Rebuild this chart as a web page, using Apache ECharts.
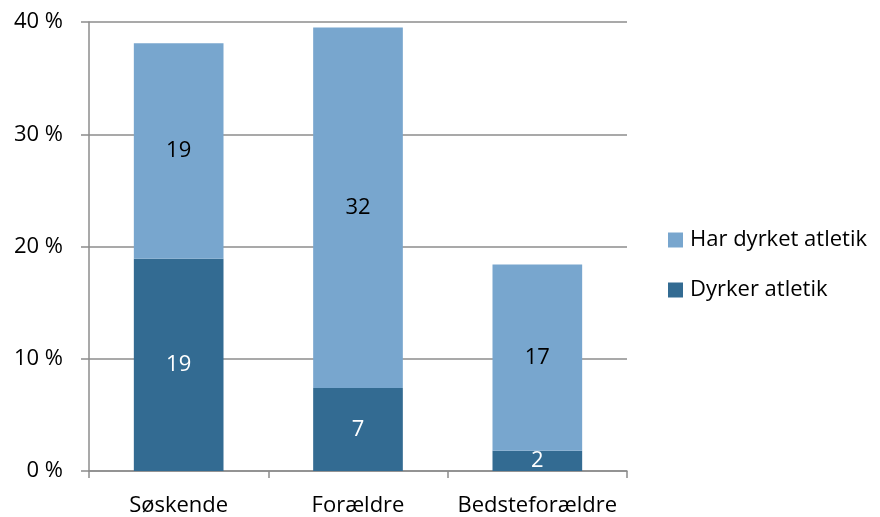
<!DOCTYPE html>
<html>
<head>
<meta charset="utf-8">
<script src="https://cdn.jsdelivr.net/npm/echarts@6/dist/echarts.min.js"></script>
<style>
html,body{margin:0;padding:0;background:#fff;}
#chart{width:880px;height:517px;}
</style>
</head>
<body>
<div id="chart"></div>
<script>
const categories = ['Søskende', 'Forældre', 'Bedsteforældre'];
const dyrker = [18.9, 7.4, 1.8];
const harDyrket = [19.2, 32.1, 16.6];
const seriesNames = ['Dyrker atletik', 'Har dyrket atletik'];
const yTicks = [0, 10, 20, 30, 40];

const FONT = '"Open Sans", "Liberation Sans", sans-serif';
const FS = 22;
const chart = echarts.init(document.getElementById('chart'));
chart.setOption({
  animation: false,
  backgroundColor: '#fff',
  grid: {left: 89, right: 253, top: 22, bottom: 46, containLabel: false},
  legend: {
    orient: 'vertical',
    left: 668,
    top: 229,
    padding: 0,
    itemWidth: 15,
    itemHeight: 15,
    itemGap: 28,
    data: [seriesNames[1], seriesNames[0]],
    textStyle: {fontFamily: FONT, fontSize: FS, color: '#000', lineHeight: 22, padding: [0, 0, 0, 2]},
    icon: 'rect'
  },
  xAxis: {
    type: 'category',
    data: categories,
    axisLine: {lineStyle: {color: '#8c8c8c', width: 1.5}},
    axisTick: {show: true, length: 7, lineStyle: {color: '#8c8c8c', width: 1.5}},
    axisLabel: {fontFamily: FONT, fontSize: FS, color: '#000', margin: 24, interval: 0, hideOverlap: false}
  },
  yAxis: {
    type: 'value',
    min: yTicks[0], max: yTicks[yTicks.length - 1], interval: 10,
    axisLine: {show: true, lineStyle: {color: '#8c8c8c', width: 1.5}},
    axisTick: {show: true, length: 8, lineStyle: {color: '#8c8c8c', width: 1.5}},
    splitLine: {lineStyle: {color: '#8c8c8c', width: 1.5}},
    axisLabel: {fontFamily: FONT, fontSize: FS, color: '#000', margin: 26, formatter: v => v + ' %'}
  },
  series: [
    {
      name: seriesNames[0], type: 'bar', stack: 'a', data: dyrker, barWidth: '50%',
      itemStyle: {color: '#336b92'},
      label: {show: true, position: 'inside', color: '#fff', fontFamily: FONT, fontSize: FS, formatter: p => Math.round(p.value)}
    },
    {
      name: seriesNames[1], type: 'bar', stack: 'a', data: harDyrket, barWidth: '50%',
      itemStyle: {color: '#78a6ce'},
      label: {show: true, position: 'inside', color: '#000', fontFamily: FONT, fontSize: FS, formatter: p => Math.round(p.value)}
    }
  ]
});
</script>
</body>
</html>
